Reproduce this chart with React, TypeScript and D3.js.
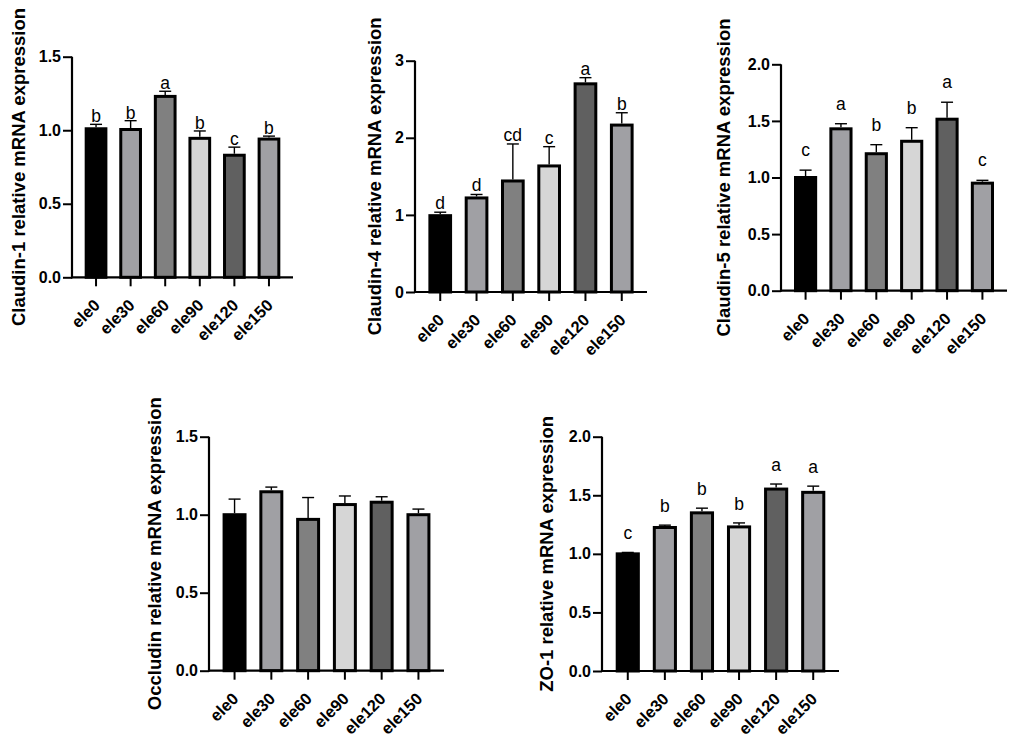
import { useRef, useEffect } from "react";
import * as d3 from "d3";

const groups = ["ele0", "ele30", "ele60", "ele90", "ele120", "ele150"];

const claudin1Means = [1.01, 1.005, 1.23, 0.945, 0.83, 0.94];
const claudin1Errors = [0.03, 0.06, 0.035, 0.05, 0.055, 0.02];
const claudin1Letters = ["b", "b", "a", "b", "c", "b"];

const claudin4Means = [0.99, 1.22, 1.44, 1.635, 2.7, 2.165];
const claudin4Errors = [0.045, 0.045, 0.48, 0.25, 0.08, 0.16];
const claudin4Letters = ["d", "d", "cd", "c", "a", "b"];

const claudin5Means = [1.0, 1.43, 1.21, 1.32, 1.515, 0.95];
const claudin5Errors = [0.065, 0.045, 0.08, 0.12, 0.15, 0.025];
const claudin5Letters = ["c", "a", "b", "b", "a", "c"];

const occludinMeans = [1.0, 1.147, 0.97, 1.065, 1.08, 1.0];
const occludinErrors = [0.1, 0.03, 0.14, 0.055, 0.035, 0.036];

const zo1Means = [1.0, 1.225, 1.35, 1.23, 1.553, 1.525];
const zo1Errors = [0.012, 0.02, 0.04, 0.034, 0.043, 0.053];
const zo1Letters = ["c", "b", "b", "b", "a", "a"];

const ticks15 = [0, 0.5, 1.0, 1.5];
const ticks3 = [0, 1, 2, 3];
const ticks2 = [0, 0.5, 1.0, 1.5, 2.0];

const fills = ["#000000", "#a0a0a4", "#808080", "#d6d6d6", "#606060", "#a0a0a4"];

interface Panel {
  title: string;
  means: number[];
  errors: number[];
  letters: string[] | null;
  ticks: number[];
  fmt: string;
  left: number;
  right: number;
  top: number;
  bottom: number;
  labelX: number;
  letterGap: number;
}

const panels: Panel[] = [
  { title: "Claudin-1 relative mRNA expression", means: claudin1Means, errors: claudin1Errors, letters: claudin1Letters, ticks: ticks15, fmt: ".1f", left: 72, right: 293, top: 56.7, bottom: 277.3, labelX: 19, letterGap: 2 },
  { title: "Claudin-4 relative mRNA expression", means: claudin4Means, errors: claudin4Errors, letters: claudin4Letters, ticks: ticks3, fmt: "d", left: 415, right: 647, top: 60.7, bottom: 292, labelX: 375, letterGap: 3 },
  { title: "Claudin-5 relative mRNA expression", means: claudin5Means, errors: claudin5Errors, letters: claudin5Letters, ticks: ticks2, fmt: ".1f", left: 781, right: 1007, top: 64.3, bottom: 290.7, labelX: 724, letterGap: 14 },
  { title: "Occludin relative mRNA expression", means: occludinMeans, errors: occludinErrors, letters: null, ticks: ticks15, fmt: ".1f", left: 209, right: 444, top: 436.7, bottom: 670.7, labelX: 155, letterGap: 0 },
  { title: "ZO-1 relative mRNA expression", means: zo1Means, errors: zo1Errors, letters: zo1Letters, ticks: ticks2, fmt: ".1f", left: 602, right: 839, top: 436.7, bottom: 671, labelX: 547, letterGap: 13 },
];

const FONT = "'Liberation Sans', Arial, sans-serif";

export default function App() {
  const ref = useRef<SVGSVGElement | null>(null);

  useEffect(() => {
    const svg = d3.select(ref.current);
    svg.selectAll("*").remove();

    svg.append("rect").attr("width", 1017).attr("height", 743).attr("fill", "#fff");

    panels.forEach((p) => {
      const g = svg.append("g");
      const yMax = p.ticks[p.ticks.length - 1];

      const x = d3
        .scaleBand()
        .domain(groups)
        .range([p.left, p.right])
        .paddingInner(0.43)
        .paddingOuter(0.41);

      const y = d3.scaleLinear().domain([0, yMax]).range([p.bottom, p.top]);

      // bars
      g.selectAll("rect.bar")
        .data(p.means)
        .join("rect")
        .attr("class", "bar")
        .attr("x", (_, i) => x(groups[i])!)
        .attr("width", x.bandwidth())
        .attr("y", (d) => y(d))
        .attr("height", (d) => p.bottom - y(d))
        .attr("fill", (_, i) => fills[i])
        .attr("stroke", "#000")
        .attr("stroke-width", 3);

      // error bars (upper only)
      const cx = (i: number) => x(groups[i])! + x.bandwidth() / 2;
      g.selectAll("line.err")
        .data(p.means)
        .join("line")
        .attr("class", "err")
        .attr("x1", (_, i) => cx(i))
        .attr("x2", (_, i) => cx(i))
        .attr("y1", (d) => y(d) - 1.5)
        .attr("y2", (d, i) => y(d + p.errors[i]))
        .attr("stroke", "#000")
        .attr("stroke-width", 1.4);
      g.selectAll("line.cap")
        .data(p.means)
        .join("line")
        .attr("class", "cap")
        .attr("x1", (_, i) => cx(i) - 6)
        .attr("x2", (_, i) => cx(i) + 6)
        .attr("y1", (d, i) => y(d + p.errors[i]))
        .attr("y2", (d, i) => y(d + p.errors[i]))
        .attr("stroke", "#000")
        .attr("stroke-width", 1.4);

      // significance letters
      if (p.letters) {
        g.selectAll("text.sig")
          .data(p.letters)
          .join("text")
          .attr("class", "sig")
          .attr("x", (_, i) => cx(i))
          .attr("y", (_, i) => y(p.means[i] + p.errors[i]) - p.letterGap)
          .attr("text-anchor", "middle")
          .attr("font-family", FONT)
          .attr("font-size", 17.5)
          .attr("fill", "#000")
          .text((d) => d);
      }

      // Y axis
      const yAxis = g
        .append("g")
        .attr("transform", `translate(${p.left},0)`)
        .call(
          d3
            .axisLeft(y)
            .tickValues(p.ticks)
            .tickFormat(d3.format(p.fmt) as any)
            .tickSize(9)
            .tickSizeOuter(0)
            .tickPadding(2)
        );
      yAxis.select(".domain").attr("stroke-width", 2.2).attr("d", `M0,${p.bottom + 1}V${p.top}`);
      yAxis.selectAll(".tick line").attr("stroke-width", 2);
      yAxis
        .selectAll(".tick text")
        .attr("font-family", FONT)
        .attr("font-size", 16)
        .attr("font-weight", "bold")
        .attr("fill", "#000");

      // X axis
      const xAxis = g
        .append("g")
        .attr("transform", `translate(0,${p.bottom})`)
        .call(d3.axisBottom(x).tickSize(9).tickSizeOuter(0));
      xAxis.select(".domain").attr("stroke-width", 2.2).attr("d", `M${p.left - 1},0H${p.right}`);
      xAxis.selectAll(".tick line").attr("stroke-width", 2);
      xAxis
        .selectAll(".tick text")
        .attr("font-family", FONT)
        .attr("font-size", 16.5)
        .attr("font-weight", "bold")
        .attr("fill", "#000")
        .attr("text-anchor", "end")
        .attr("dy", null)
        .attr("y", null)
        .attr("transform", "translate(5,29) rotate(-45)");

      // Y title
      g.append("text")
        .attr("transform", `translate(${p.labelX},${(p.top + p.bottom) / 2}) rotate(-90)`)
        .attr("text-anchor", "middle")
        .attr("dy", "0.35em")
        .attr("font-family", FONT)
        .attr("font-size", 18.5)
        .attr("font-weight", "bold")
        .attr("fill", "#000")
        .text(p.title);
    });
  }, []);

  return (
    <svg
      ref={ref}
      width={1017}
      height={743}
      style={{ position: "absolute", left: 0, top: 0 }}
    ></svg>
  );
}
